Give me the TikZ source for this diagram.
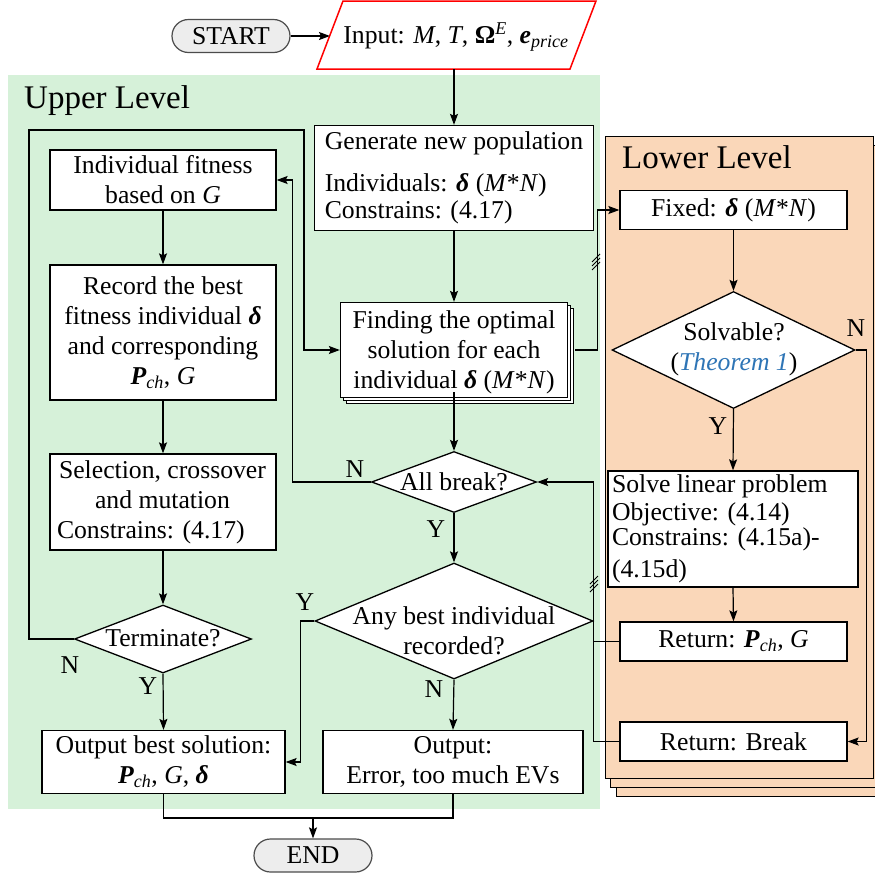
\documentclass[tikz,border=0pt]{standalone}
\usepackage{fontspec}
\setmainfont{Liberation Serif}
\usetikzlibrary{shapes.geometric,shapes.misc,shadows,arrows.meta}
\definecolor{upperbg}{RGB}{214,241,217}
\definecolor{lowerbg}{RGB}{250,215,185}
\definecolor{thmblue}{RGB}{46,117,182}
\newcommand{\bdelta}{\textbf{\textit{δ}}}
\newcommand{\Pch}{\textbf{\textit{P}}\textsubscript{\textit{ch}}}
\newcommand{\leftlines}[1]{\begin{tabular}{@{}l@{}}#1\end{tabular}}
\begin{document}
\begin{tikzpicture}[x=1pt,y=-1pt,
  every node/.style={font=\fontsize{25.7}{30}\selectfont},
  box/.style={draw, fill=white, line width=1.3pt, inner sep=3pt, align=center},
  dec/.style={diamond, draw, fill=white, line width=1.3pt, inner sep=0pt},
  term/.style={rounded rectangle, draw=black!70, fill=black!7, line width=1.2pt,
               minimum width=118pt, minimum height=33pt, inner sep=0pt},
  arr/.style={line width=1.2pt, -{Stealth[length=11pt,width=8pt,inset=2pt]}},
  conn/.style={line width=1.2pt},
  yn/.style={inner sep=0pt},
  lvl/.style={font=\fontsize{33}{36}\selectfont, anchor=west, inner sep=0pt},
  slash/.style={line width=0.9pt}]
\useasboundingbox (0,0) rectangle (875,876);

% level backgrounds
\fill[upperbg] (8,75) rectangle (600,809);
\node[lvl] (upl) at (24,101) {Upper Level};
\foreach \d/\e in {11/18, 5.5/9, 0/0}
  \draw[fill=lowerbg, line width=0.9pt] (605+\d,136+\e) rectangle (873+\d,778+\e);
\node[lvl] (lol) at (622,157) {Lower Level};

% start and input
\node[term] (start) at (231,36) {START};
\draw[draw=red, line width=1.5pt, fill=white] (343,1) -- (596,1) -- (570,69) -- (317,69) -- cycle;
\node (input) at (456,37) {Input: \textit{M}, \textit{T}, \textbf{Ω}\textsuperscript{\textit{E}}, \textbf{\textit{e}}\textsubscript{\textit{price}}};
\coordinate (inl) at (330,36);
\coordinate (inb) at (454,69);

% upper level, middle column
\node[box, minimum width=279pt, minimum height=104pt] (gen) at (454,178)
  {\leftlines{Generate new population\\[12pt]Individuals: \bdelta{} (\textit{M}*\textit{N})\\[-3pt]Constrains: (4.17)}};
\node[box, minimum width=227pt, minimum height=95pt, inner sep=0pt,
      double copy shadow={shadow xshift=3pt, shadow yshift=-3pt}] (fin) at (454,350) {};
\node[align=center] (fint) at (454,352) {Finding the optimal\\solution for each\\individual \bdelta{} (\textit{M}*\textit{N})};
\node[dec, minimum width=165pt, minimum height=61pt] (allb) at (454,482) {};
\node (allbt) at (454,482) {All break?};
\node[dec, minimum width=278pt, minimum height=116pt] (anyb) at (454,621) {};
\node[align=center] (anybt) at (454,631) {Any best individual\\recorded?};
\node[box, minimum width=260pt, minimum height=63pt] (err) at (453,762) {Output:\\Error, too much EVs};

% upper level, left column
\node[box, minimum width=226pt, minimum height=60pt] (fit) at (163,180) {Individual fitness\\based on \textit{G}};
\node[box, minimum width=226pt, minimum height=135pt] (rec) at (163,332.5)
  {Record the best\\fitness individual \bdelta\\and corresponding\\\Pch, \textit{G}};
\node[box, minimum width=226pt, minimum height=92pt] (sel) at (163,502)
  {\makebox[212pt][l]{\leftlines{\hspace*{2pt}Selection, crossover\\\hspace*{38pt}and mutation\\Constrains: (4.17)}}};
\node[dec, minimum width=177pt, minimum height=68pt] (term) at (163,639) {};
\node (termt) at (163,638) {Terminate?};
\node[box, minimum width=243pt, minimum height=63pt] (outb) at (163.5,762)
  {Output best solution:\\\Pch, \textit{G}, \bdelta};

% end
\node[term] (end) at (313,855.5) {END};
\coordinate (jn) at (313,818);

% lower level
\node[box, minimum width=227pt, minimum height=39pt] (fix) at (733.5,210) {Fixed: \bdelta{} (\textit{M}*\textit{N})};
\node[dec, minimum width=243pt, minimum height=117pt] (solv) at (733.5,350) {};
\node[align=center] (solvt) at (734,349) {Solvable?\\(\textcolor{thmblue}{\textit{Theorem 1}})};
\node[box, minimum width=250pt, minimum height=116pt, inner sep=0pt] (solve) at (733,529)
  {\makebox[242pt][l]{\leftlines{Solve linear problem\\[-2pt]Objective: (4.14)\\[-5pt]Constrains: (4.15a)-\\[2pt](4.15d)}}};
\node[box, minimum width=227pt, minimum height=39pt] (retp) at (733.5,641.5) {Return: \Pch, \textit{G}};
\node[box, minimum width=227pt, minimum height=39pt] (retb) at (733.5,741.5) {Return: Break};

% connectors
\draw[arr] (start.east) -- (inl);
\draw[arr] (inb) -- (gen.north);
\draw[arr] (gen.south) -- (fin.north);
\draw[arr] ([yshift=6pt]fin.south) -- (allb.north);
\draw[arr] (allb.south) -- (anyb.north);
\draw[arr] (anyb.south) -- (err.north);
\draw[arr] (allb.west) -- ++(-78,0) |- (fit.east);
\coordinate (lt) at (29,130);
\coordinate (rt) at (304,130);
\draw[arr] (term.west) -| (lt) -- (rt) |- (fin.west);
\draw[arr] (fit.south) -- (rec.north);
\draw[arr] (rec.south) -- (sel.north);
\draw[arr] (sel.south) -- (term.north);
\draw[arr] (term.south) -- (outb.north);
\draw[arr] (anyb.west) -- ++(-14,0) |- (outb.east);
\draw[conn] (outb.south) |- (jn);
\draw[conn] (err.south) |- (jn);
\draw[arr] (jn) -- (end.north);
\draw[arr] (fin.east) ++(7,0) -- ++(22,0) |- (fix.west);
\draw[arr] (fix.south) -- (solv.north);
\draw[arr] (solv.south) -- (solve.north);
\draw[arr] (solve.south) -- (retp.north);
\draw[arr] (solv.east) -- ++(11,0) |- (retb.east);
\draw[arr] (retb.west) -- ++(-26,0) |- (allb.east);
\draw[conn] (retp.west) -- ++(-26,0);

% parallel-data marks
\foreach \yy in {-4,0,4}
  \draw[slash] (592,262+\yy+4) -- (600,262+\yy-4);
\foreach \yy in {-4,0,4}
  \draw[slash] (590,584+\yy+4) -- (598,584+\yy-4);

% branch labels
\node[yn] (n1) at (355,469) {N};
\node[yn] (y1) at (436,529) {Y};
\node[yn] (y2) at (305,602) {Y};
\node[yn] (n2) at (434,689) {N};
\node[yn] (n3) at (70,665) {N};
\node[yn] (y3) at (148,686) {Y};
\node[yn] (n4) at (856,328) {N};
\node[yn] (y4) at (718,426) {Y};
\end{tikzpicture}
\end{document}
